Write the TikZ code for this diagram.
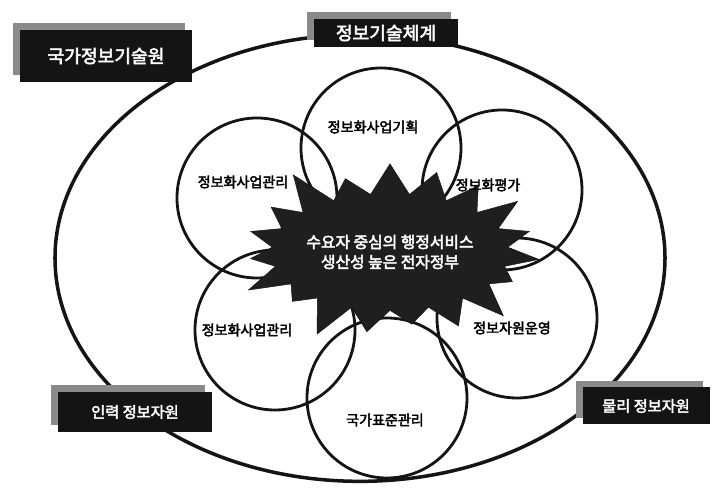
\documentclass[tikz,border=0pt]{standalone}
\usepackage{fontspec}
\usepackage{tikz}
\usetikzlibrary{shapes.geometric, shapes.symbols, shadows}
\newfontfamily\kr{Noto Sans CJK KR}[FakeBold=3]
\definecolor{tinta}{HTML}{141414}
\definecolor{sombra}{HTML}{8A8A8A}

\begin{document}
\begin{tikzpicture}[x=0.03cm, y=-0.03cm, font=\kr,
        tag/.style={fill=tinta, text=white, inner sep=0pt,
            font=\kr\fontsize{15.5}{18}\selectfont,
            drop shadow={shadow xshift=-0.2cm, shadow yshift=0.2cm, fill=sombra, opacity=1}},
        ring/.style={draw=tinta, circle, line width=2.4pt, minimum size=4.8cm, inner sep=0pt},
        lbl/.style={font=\kr\fontsize{12}{14}\selectfont}]
        \useasboundingbox (0,0) rectangle (715,488);
        \node[draw=tinta, ellipse, line width=3pt, minimum width=18.3cm, minimum height=13.4cm] (field) at (360,258) {};
        \foreach \n/\x/\y in {plan/381/148, mgtA/257/198, eval/502/190, mgtB/275/330, oper/517/318, std/387/398}
            \node[ring] (\n) at (\x,\y) {};
        \node[starburst, starburst points=19, starburst point height=1.25cm, fill=black!88, draw=tinta,
            minimum width=6.4cm, minimum height=6cm, inner sep=0pt, text=white, align=center,
            font=\kr\fontsize{13.5}{17}\selectfont] (core) at (390,252)
            {수요자 중심의 행정서비스\\생산성 높은 전자정부};
        \node[lbl] (planT) at (373,127) {정보화사업기획};
        \node[lbl] (mgtAT) at (243,182) {정보화사업관리};
        \node[lbl] (evalT) at (488,185) {정보화평가};
        \node[lbl] (mgtBT) at (247,330) {정보화사업관리};
        \node[lbl] (operT) at (512,328) {정보자원운영};
        \node[lbl] (stdT)  at (385,420) {국가표준관리};
        \node[tag, minimum width=5.16cm, minimum height=1.56cm] (inst) at (106,56) {국가정보기술원};
        \node[tag, minimum width=4.32cm, minimum height=0.84cm] (sys)  at (386,33) {정보기술체계};
        \node[tag, minimum width=4.62cm, minimum height=1.2cm, font=\kr\fontsize{13}{15}\selectfont] (human) at (135,412) {인력 정보자원};
        \node[tag, minimum width=3.81cm, minimum height=1.11cm, font=\kr\fontsize{13}{15}\selectfont] (phys)  at (646,406) {물리 정보자원};
    \end{tikzpicture}
\end{document}
